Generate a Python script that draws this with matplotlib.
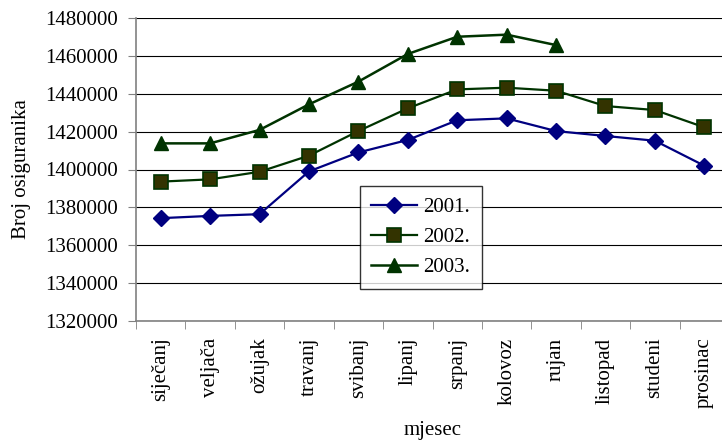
import numpy as np
from matplotlib import pyplot as plt

# Monthly number of insured persons
months = ['siječanj', 'veljača', 'ožujak', 'travanj', 'svibanj', 'lipanj',
          'srpanj', 'kolovoz', 'rujan', 'listopad', 'studeni', 'prosinac']
y2001 = [1374300, 1375500, 1376400, 1399000, 1409000, 1415600,
         1426000, 1427000, 1420300, 1417700, 1415200, 1402000]
y2002 = [1393600, 1394800, 1398800, 1407300, 1420300, 1432300,
         1442300, 1443200, 1441600, 1433500, 1431400, 1422300]
y2003 = [1413800, 1413800, 1420900, 1434400, 1446400, 1461000,
         1470100, 1471200, 1465700, np.nan, np.nan, np.nan]
yticks = [1320000, 1340000, 1360000, 1380000, 1400000,
          1420000, 1440000, 1460000, 1480000]

plt.rcParams['font.family'] = ['Liberation Serif', 'DejaVu Serif']

fig = plt.figure(figsize=(7.22, 4.45), dpi=100)
ax = fig.add_axes([136 / 722, 124 / 445, 593 / 722, 303 / 445])

x = np.arange(len(months))
ax.plot(x, y2001, c='#000080', lw=1.6, marker='D', ms=8,
        mfc='#000080', mec='#000080', label='2001.', zorder=3)
ax.plot(x, y2002, c='#003300', lw=1.6, marker='s', ms=9.5,
        mfc='#333300', mec='#003300', mew=1.2, label='2002.', zorder=3)
ax.plot(x, y2003, c='#003300', lw=1.8, marker='^', ms=10,
        mfc='#003300', mec='#003300', label='2003.', zorder=3)

# Format axes
ax.set_xlim(-0.5, 11.5)
ax.set_ylim(1320000, 1480000)
ax.set_yticks(yticks)
ax.set_yticklabels([str(v) for v in yticks], fontsize=15)
ax.yaxis.grid(True, color='black', lw=0.8)
ax.set_axisbelow(True)

ax.set_xticks(x)
ax.set_xticklabels(months, rotation=90, fontsize=15, va='top')
ax.set_xticks(np.arange(-0.5, 11.5, 1), minor=True)
ax.tick_params(axis='x', which='major', length=0, pad=12)
ax.tick_params(axis='x', which='minor', length=6, color='#808080')
ax.tick_params(axis='y', length=6, color='#808080', pad=7)

for side in ['top', 'right']:
    ax.spines[side].set_visible(False)
for side in ['left', 'bottom']:
    ax.spines[side].set_color('#808080')
    ax.spines[side].set_linewidth(1.2)

ax.set_ylabel('Broj osiguranika', fontsize=15, labelpad=10)
ax.set_xlabel('mjesec', fontsize=15, labelpad=9)

leg = ax.legend(loc='upper left', bbox_to_anchor=((360 - 136) / 593, (321 - 186) / 303),
                fontsize=15, frameon=True, fancybox=False, edgecolor='black',
                borderpad=0.55, labelspacing=0.5, handlelength=2.2, handletextpad=0.3,
                borderaxespad=0)
leg.get_frame().set_linewidth(1.0)

plt.savefig('out.png', dpi=100)
